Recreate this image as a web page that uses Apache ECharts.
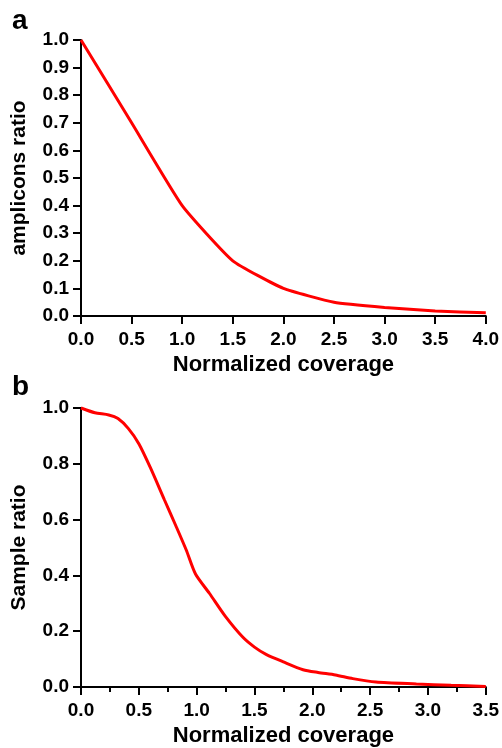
<!DOCTYPE html>
<html>
<head>
<meta charset="utf-8">
<title>coverage</title>
<script src="https://cdn.jsdelivr.net/npm/echarts@6/dist/echarts.min.js"></script>
<style>
  html, body { margin: 0; padding: 0; background: #fff; }
  #main { width: 502px; height: 748px; }
</style>
</head>
<body>
<div id="main"></div>
<script>
// panel a
var coverageA = [0.0, 0.5, 1.0, 1.5, 2.0, 2.5, 3.0, 3.5, 4.0];
var ampliconsRatio = [1.0, 0.70, 0.40, 0.20, 0.10, 0.05, 0.031, 0.018, 0.012];

// panel b
var coverageB = [0.0, 0.12, 0.24, 0.32, 0.41, 0.5, 0.6, 0.72, 0.82, 0.91, 0.99, 1.11, 1.25, 1.4, 1.5, 1.6, 1.75, 1.92, 2.05, 2.2, 2.35, 2.55, 2.9, 3.2, 3.5];
var sampleRatio = [1.0, 0.983, 0.975, 0.962, 0.926, 0.872, 0.786, 0.672, 0.578, 0.491, 0.405, 0.336, 0.252, 0.178, 0.143, 0.117, 0.09, 0.062, 0.052, 0.043, 0.03, 0.018, 0.011, 0.006, 0.002];

function pairs(xs, ys) {
    var out = [];
    for (var i = 0; i < xs.length; i++) out.push([xs[i], ys[i]]);
    return out;
}

var font = 'Liberation Sans, Arial, sans-serif';
var fmt1 = function (v) { return v.toFixed(1); };

function xAx(idx, max, minor) {
    return {
        type: 'value', gridIndex: idx, min: 0, max: max, interval: 0.5,
        name: 'Normalized coverage', nameLocation: 'middle', nameGap: 38,
        nameTextStyle: { fontFamily: font, fontWeight: 'bold', fontSize: 22, color: '#000' },
        axisLine: { lineStyle: { color: '#000', width: 2 } },
        axisTick: { inside: false, length: 8, lineStyle: { color: '#000', width: 2 } },
        minorTick: { show: minor, splitNumber: 2, length: 5, lineStyle: { color: '#000', width: 2 } },
        axisLabel: { formatter: fmt1, margin: 14, fontFamily: font, fontWeight: 'bold', fontSize: 19, color: '#000' },
        splitLine: { show: false }
    };
}

function yAx(idx, interval, title) {
    return {
        type: 'value', gridIndex: idx, min: 0, max: 1, interval: interval,
        name: title, nameLocation: 'middle', nameGap: 51,
        nameTextStyle: { fontFamily: font, fontWeight: 'bold', fontSize: 21, color: '#000' },
        axisLine: { show: true, lineStyle: { color: '#000', width: 2 } },
        axisTick: { show: true, length: 8, lineStyle: { color: '#000', width: 2 } },
        axisLabel: { formatter: fmt1, margin: 12, fontFamily: font, fontWeight: 'bold', fontSize: 19, color: '#000' },
        splitLine: { show: false }
    };
}

var myChart = echarts.init(document.getElementById('main'));
var option = {
    backgroundColor: '#fff',
    animation: false,
    title: [
        { text: 'a', left: 7, top: 2, textStyle: { fontFamily: font, fontWeight: 'bold', fontSize: 28, color: '#000' } },
        { text: 'b', left: 7, top: 368, textStyle: { fontFamily: font, fontWeight: 'bold', fontSize: 28, color: '#000' } }
    ],
    grid: [
        { left: 81, top: 40, width: 406, height: 276 },
        { left: 81, top: 408, width: 406, height: 279 }
    ],
    xAxis: [xAx(0, 4.0, false), xAx(1, 3.5, true)],
    yAxis: [yAx(0, 0.1, 'amplicons ratio'), yAx(1, 0.2, 'Sample ratio')],
    series: [
        {
            type: 'line', xAxisIndex: 0, yAxisIndex: 0, showSymbol: false, smooth: 0.15,
            lineStyle: { color: '#ff0000', width: 3 }, clip: false,
            data: pairs(coverageA, ampliconsRatio)
        },
        {
            type: 'line', xAxisIndex: 1, yAxisIndex: 1, showSymbol: false, smooth: 0.25,
            lineStyle: { color: '#ff0000', width: 3 }, clip: false,
            data: pairs(coverageB, sampleRatio)
        }
    ]
};
myChart.setOption(option);
</script>
</body>
</html>
